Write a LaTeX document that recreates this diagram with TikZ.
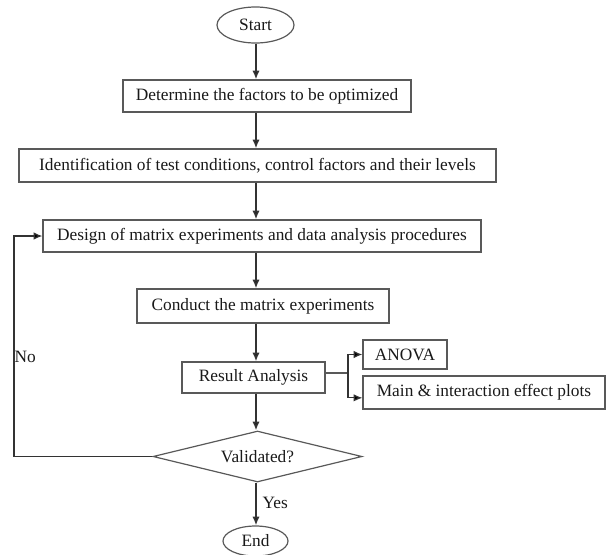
\documentclass[tikz,border=0pt]{standalone}
\usepackage{fontspec}
\setmainfont{Liberation Serif}
\usetikzlibrary{shapes.geometric, positioning, arrows.meta}

\begin{document}
\begin{tikzpicture}[
        x=0.75pt, y=-0.75pt,
        every node/.style={draw=black!65, line width=0.9pt, align=center, inner sep=0pt,
                           text=black!90, font=\fontsize{13}{15}\selectfont},
        stepbox/.style={rectangle},
        terminal/.style={ellipse},
        decision/.style={diamond, aspect=4},
        tag/.style={draw=none, anchor=west},
        flow/.style={draw=black!80, line width=1.4pt, ->,
                     >={Latex[length=6.5pt,width=5.5pt,fill=black]}},
        link/.style={draw=black!65, line width=0.9pt},
      ]
      \useasboundingbox (0,0) rectangle (606,554);
      \coordinate (spine) at (256,0);
      \coordinate (loopx) at (14,0);
      \coordinate (fork) at (348,373);

      \node[terminal, minimum width=57.75pt, minimum height=27pt] (start) at (255.5,25) {Start};
      \node[stepbox, minimum width=216pt, minimum height=24pt] (factors) at (267,96)
        {Determine the factors to be optimized};
      \node[stepbox, minimum width=357.75pt, minimum height=24.75pt] (conditions) at (257.5,165.5)
        {Identification of test conditions, control factors and their levels};
      \node[stepbox, minimum width=328.5pt, minimum height=24pt] (design) at (262,236)
        {Design of matrix experiments and data analysis procedures};
      \node[stepbox, minimum width=189pt, minimum height=25.5pt] (conduct) at (263,306)
        {Conduct the matrix experiments};
      \node[stepbox, minimum width=107.25pt, minimum height=23.25pt] (result) at (253.5,377.5)
        {Result Analysis};
      \node[stepbox, minimum width=63pt, minimum height=21.75pt] (anova) at (405,354.5) {ANOVA};
      \node[stepbox, minimum width=181.5pt, minimum height=24.75pt] (plots) at (484,392.5)
        {Main \& interaction effect plots};
      \node[decision, minimum width=156.75pt, minimum height=38.25pt] (valid) at (257.5,456.5)
        {Validated?};
      \node[terminal, minimum width=48.75pt, minimum height=22.5pt] (stop) at (255.5,541) {End};

      \node[tag] (no) at (14,357) {No};
      \node[tag] (yes) at (262,503) {Yes};

      % main line
      \draw[flow] (spine |- start.south) -- (spine |- factors.north);
      \draw[flow] (spine |- factors.south) -- (spine |- conditions.north);
      \draw[flow] (spine |- conditions.south) -- (spine |- design.north);
      \draw[flow] (spine |- design.south) -- (spine |- conduct.north);
      \draw[flow] (spine |- conduct.south) -- (spine |- result.north);
      \draw[flow] (spine |- result.south) -- (spine |- valid.north);
      \draw[flow] (spine |- valid.south) -- (spine |- stop.north);

      % analysis outputs
      \draw[link] (result.east |- fork) -- (fork);
      \draw[flow, line width=0.9pt] (fork) |- (anova.west);
      \draw[flow, line width=0.9pt] (fork) |- ([yshift=-4pt]plots.west);

      % back to design
      \draw[flow, line width=0.9pt] (valid.west) -| (loopx |- design.west) -- (design.west);
\end{tikzpicture}
\end{document}
